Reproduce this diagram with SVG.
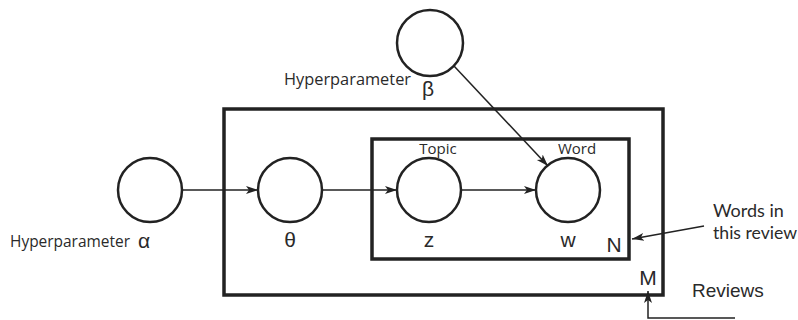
<svg xmlns="http://www.w3.org/2000/svg" width="798" height="320" viewBox="0 0 798 320">
<defs>
<marker id="ah" viewBox="0 0 12 10" refX="12" refY="5" markerWidth="12" markerHeight="10" markerUnits="userSpaceOnUse" orient="auto">
<path d="M0,1 L12,5 L0,9 L3,5 Z" fill="#222"/>
</marker>
</defs>
<style>
.node{fill:#fff;stroke:#222;stroke-width:2.5}
.plate{fill:none;stroke:#222;stroke-width:3.5}
.edge{fill:none;stroke:#222;stroke-width:1.5;marker-end:url(#ah)}
.lab{font-family:"Open Sans","Liberation Sans",sans-serif;fill:#2a2a2a}
.lato{font-family:Lato,"Open Sans",sans-serif;fill:#2a2a2a}
.sym{font-family:"Liberation Sans",Arial,sans-serif;fill:#2a2a2a}
</style>
<g id="plates">
<rect class="plate" x="224" y="109" width="439" height="186"/>
<rect class="plate" x="372" y="139" width="257" height="120"/>
</g>
<g id="connectors">
<line class="edge" x1="182" y1="190" x2="258" y2="190"/>
<line class="edge" x1="322" y1="190" x2="397" y2="190"/>
<line class="edge" x1="461" y1="190" x2="536" y2="190"/>
<line class="edge" x1="454" y1="66" x2="548" y2="166"/>
<line class="edge" stroke-width="2.5" x1="704" y1="226" x2="632" y2="239"/>
<polyline class="edge" stroke-width="2.5" points="735,318 648,318 648,291"/>
</g>
<g id="alpha">
<circle class="node" cx="150" cy="190" r="32"/>
<text class="lab" x="10" y="247" font-size="16" textLength="120" lengthAdjust="spacingAndGlyphs">Hyperparameter</text>
<text class="sym" x="138" y="248" font-size="21">α</text>
</g>
<g id="beta">
<circle class="node" cx="430" cy="43" r="33"/>
<text class="lab" x="284" y="85" font-size="17" textLength="127" lengthAdjust="spacingAndGlyphs">Hyperparameter</text>
<text class="sym" x="422" y="96" font-size="21">β</text>
</g>
<g id="theta">
<circle class="node" cx="290" cy="190" r="32"/>
<text class="sym" x="290" y="247" font-size="21" text-anchor="middle">θ</text>
</g>
<g id="z">
<circle class="node" cx="429" cy="190" r="32"/>
<text class="lab" x="438" y="154" font-size="15" text-anchor="middle">Topic</text>
<text class="sym" x="429" y="247" font-size="21" text-anchor="middle">z</text>
</g>
<g id="w">
<circle class="node" cx="568" cy="190" r="32"/>
<text class="lab" x="577" y="154" font-size="15" text-anchor="middle">Word</text>
<text class="sym" x="568" y="247" font-size="21" text-anchor="middle">w</text>
</g>
<g id="labels">
<text class="sym" x="614" y="252" font-size="21" text-anchor="middle">N</text>
<text class="sym" x="648" y="285" font-size="21" text-anchor="middle">M</text>
<text class="lato" x="713" y="217" font-size="18">Words in</text>
<text class="lato" x="713" y="239" font-size="18" textLength="84" lengthAdjust="spacingAndGlyphs">this review</text>
<text class="sym" x="692" y="297" font-size="19">Reviews</text>
</g>
</svg>
